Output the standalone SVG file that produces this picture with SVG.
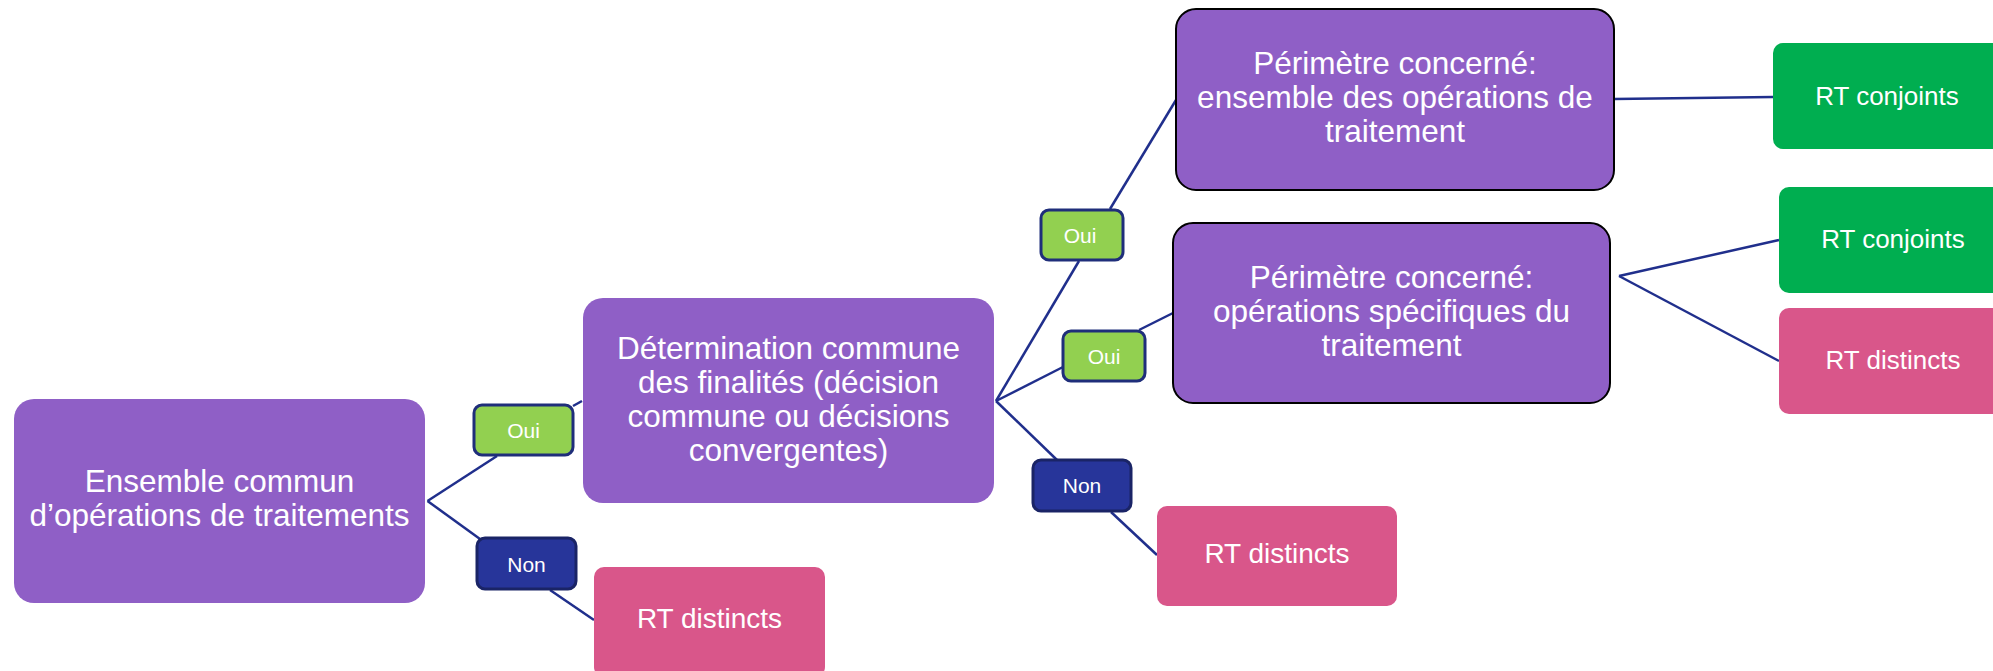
<svg xmlns="http://www.w3.org/2000/svg" width="1993" height="671" viewBox="0 0 1993 671">
<style>
text{font-family:"Liberation Sans",Arial,sans-serif;fill:#fff;text-anchor:middle}
.big{font-size:31.5px}
.lbl{font-size:21px}
.rt{font-size:26px}
.rt2{font-size:28px}
.purple{fill:#8F5FC6}
.perim{fill:#8F5FC6;stroke:#000;stroke-width:2}
.pink{fill:#D9568A}
.green{fill:#00AE50}
.oui{fill:#92D050;stroke:#1F2E7A;stroke-width:3}
.non{fill:#27359A;stroke:#1A2466;stroke-width:3}
.conn line{stroke:#202F8C;stroke-width:2.5;fill:none}
</style>
<rect width="1993" height="671" fill="#fff"/>
<g id="connectors" class="conn">
<line x1="427.5" y1="501" x2="497" y2="456"/>
<line x1="573" y1="406" x2="582" y2="401"/>
<line x1="427.5" y1="501" x2="480" y2="539"/>
<line x1="550" y1="590" x2="594" y2="620"/>
<line x1="996" y1="401" x2="1079" y2="261"/>
<line x1="1110" y1="209" x2="1176" y2="100"/>
<line x1="996" y1="401" x2="1063" y2="367"/>
<line x1="1139" y1="330" x2="1173" y2="313"/>
<line x1="996" y1="401" x2="1057" y2="460"/>
<line x1="1111" y1="512" x2="1157" y2="555"/>
<line x1="1614" y1="99" x2="1773" y2="97"/>
<line x1="1619" y1="276" x2="1779" y2="240"/>
<line x1="1619" y1="276" x2="1779" y2="361"/>
</g>
<g id="main">
<rect class="purple" x="14" y="399" width="411" height="204" rx="20"/>
<text class="big"><tspan x="219.5" y="492">Ensemble commun</tspan><tspan x="219.5" y="526">d’opérations de traitements</tspan></text>
</g>
<g id="determination">
<rect class="purple" x="583" y="298" width="411" height="205" rx="20"/>
<text class="big"><tspan x="788.5" y="358.5">Détermination commune</tspan><tspan x="788.5" y="392.5">des finalités (décision</tspan><tspan x="788.5" y="426.5">commune ou décisions</tspan><tspan x="788.5" y="460.5">convergentes)</tspan></text>
</g>
<g id="perimetre1">
<rect class="perim" x="1176" y="9" width="438" height="181" rx="20"/>
<text class="big"><tspan x="1395" y="73.5">Périmètre concerné:</tspan><tspan x="1395" y="107.5">ensemble des opérations de</tspan><tspan x="1395" y="141.5">traitement</tspan></text>
</g>
<g id="perimetre2">
<rect class="perim" x="1173" y="223" width="437" height="180" rx="20"/>
<text class="big"><tspan x="1391.5" y="287.5">Périmètre concerné:</tspan><tspan x="1391.5" y="321.5">opérations spécifiques du</tspan><tspan x="1391.5" y="355.5">traitement</tspan></text>
</g>
<g id="oui1">
<rect class="oui" x="474" y="405" width="99" height="50" rx="8"/>
<text class="lbl" x="523.5" y="438">Oui</text>
</g>
<g id="non1">
<rect class="non" x="477" y="538" width="99" height="51" rx="8"/>
<text class="lbl" x="526.5" y="572">Non</text>
</g>
<g id="oui2">
<rect class="oui" x="1041" y="210" width="82" height="50" rx="8"/>
<text class="lbl" x="1080" y="243">Oui</text>
</g>
<g id="oui3">
<rect class="oui" x="1063" y="331" width="82" height="50" rx="8"/>
<text class="lbl" x="1104" y="364">Oui</text>
</g>
<g id="non2">
<rect class="non" x="1033" y="460" width="98" height="51" rx="8"/>
<text class="lbl" x="1082" y="493">Non</text>
</g>
<g id="rt-distincts1">
<rect class="pink" x="594" y="567" width="231" height="110" rx="10"/>
<text class="rt2" x="709.5" y="628">RT distincts</text>
</g>
<g id="rt-distincts2">
<rect class="pink" x="1157" y="506" width="240" height="100" rx="10"/>
<text class="rt2" x="1277" y="563">RT distincts</text>
</g>
<g id="rt-conjoints1">
<rect class="green" x="1773" y="43" width="230" height="106" rx="10"/>
<text class="rt" x="1887" y="105">RT conjoints</text>
</g>
<g id="rt-conjoints2">
<rect class="green" x="1779" y="187" width="230" height="106" rx="10"/>
<text class="rt" x="1893" y="248">RT conjoints</text>
</g>
<g id="rt-distincts3">
<rect class="pink" x="1779" y="308" width="230" height="106" rx="10"/>
<text class="rt" x="1893" y="369">RT distincts</text>
</g>
</svg>
